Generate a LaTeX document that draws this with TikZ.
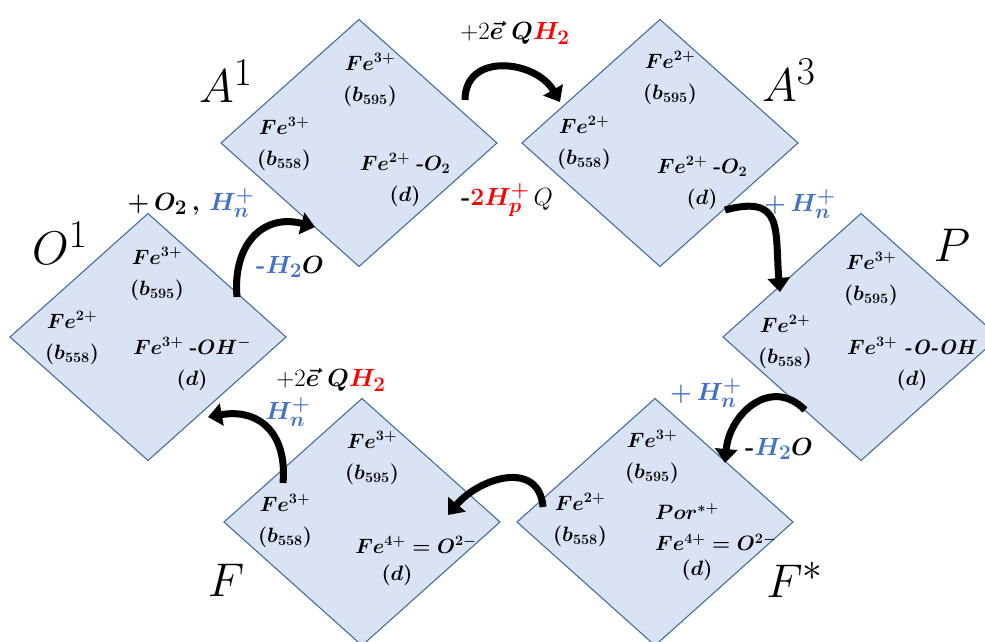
\documentclass[tikz,border=0pt]{standalone}
\usepackage{amsmath,amssymb}
\usepackage{tikz}
\usetikzlibrary{arrows.meta, positioning, calc, shapes.geometric}
\definecolor{cellfill}{RGB}{218,227,243}
\definecolor{celledge}{RGB}{65,113,156}
\definecolor{protblue}{RGB}{68,114,196}
\definecolor{hred}{RGB}{255,0,0}
\newcommand{\bigstate}[1]{\scalebox{1.9}{$#1$}}

\begin{document}
\begin{tikzpicture}[x=1pt, y=1pt,
  cell/.style={diamond, draw=celledge, fill=cellfill, line width=1.1pt, minimum width=276pt, minimum height=247pt, inner sep=0pt, outer sep=0pt},
  heme/.style={align=center, inner sep=0pt, font=\fontsize{20.74}{31}\selectfont\boldmath},
  statelabel/.style={inner sep=0pt, font=\fontsize{24.88}{28}\selectfont},
  chem/.style={inner sep=0pt, font=\fontsize{24.88}{28}\selectfont\boldmath},
  cyclearrow/.style={line width=7pt, -{Triangle[width=22pt,length=14pt]}, looseness=1.3}
]
  \useasboundingbox (0,0) rectangle (985,-642);

  % the six states
  \node[cell] (A1) at (359,-143) {};
  \node[cell] (A3) at (660,-143) {};
  \node[cell] (P) at (861,-337) {};
  \node[cell] (Fs) at (655,-522) {};
  \node[cell] (F) at (362,-522) {};
  \node[cell] (O1) at (148,-337) {};

  % A^1
  \node[heme] (A1top) at ($(A1)+(11,63)$) {$Fe^{3+}$\\$(b_{595})$};
  \node[heme] (A1left) at ($(A1)+(-75,-1)$) {$Fe^{3+}$\\$(b_{558})$};
  \node[heme] (A1right) at ($(A1)+(46,-37)$) {$Fe^{2+}$ \textbf{-}$O_2$\\$(d)$};
  % A^3
  \node[heme] (A3top) at ($(A3)+(10,65)$) {$Fe^{2+}$\\$(b_{595})$};
  \node[heme] (A3left) at ($(A3)+(-76,0)$) {$Fe^{2+}$\\$(b_{558})$};
  \node[heme] (A3right) at ($(A3)+(42,-40)$) {$Fe^{2+}$ \textbf{-}$O_2$\\$(d)$};
  % P
  \node[heme] (Ptop) at ($(P)+(10,58)$) {$Fe^{3+}$\\$(b_{595})$};
  \node[heme] (Pleft) at ($(P)+(-76,-5)$) {$Fe^{2+}$\\$(b_{558})$};
  \node[heme] (Pright) at ($(P)+(51,-27)$) {$Fe^{3+}$ \textbf{\textit{-O-OH}}\\$(d)$};
  % F^*
  \node[heme] (Fstop) at ($(Fs)+(-3,65)$) {$Fe^{3+}$\\$(b_{595})$};
  \node[heme] (Fsleft) at ($(Fs)+(-75,2)$) {$Fe^{2+}$\\$(b_{558})$};
  \node[heme, align=left, anchor=west] (Fsright) at ($(Fs)+(0,-5)$) {$Por^{*+}$\\$Fe^{4+}=O^{2-}$};
  \node[heme] (Fsd) at ($(Fs)+(42,-48)$) {$(d)$};
  % F
  \node[heme] (Ftop) at ($(F)+(10,64)$) {$Fe^{3+}$\\$(b_{595})$};
  \node[heme] (Fleft) at ($(F)+(-77,1)$) {$Fe^{3+}$\\$(b_{558})$};
  \node[heme] (Fright) at ($(F)+(54,-23)$) {$Fe^{4+}=O^{2-}$};
  \node[heme] (Fd) at ($(F)+(35,-53)$) {$(d)$};
  % O^1
  \node[heme] (O1top) at ($(O1)+(9,63)$) {$Fe^{3+}$\\$(b_{595})$};
  \node[heme] (O1left) at ($(O1)+(-76,-1)$) {$Fe^{2+}$\\$(b_{558})$};
  \node[heme] (O1right) at ($(O1)+(44,-27)$) {$Fe^{3+}$ \textbf{-}$OH^-$\\$(d)$};

  % state names
  \node[statelabel] (A1lab) at (226,-81) {\bigstate{A^1}};
  \node[statelabel] (A3lab) at (789,-80) {\bigstate{A^3}};
  \node[statelabel] (O1lab) at (60,-243) {\bigstate{O^1}};
  \node[statelabel] (Plab) at (952,-245) {\bigstate{P}};
  \node[statelabel] (Flab) at (226,-580) {\bigstate{F}};
  \node[statelabel] (Fslab) at (795,-580) {\bigstate{F^*}};

  % what goes in and out at each step
  \node[chem] (in1) at (515,-33) {\mbox{\unboldmath$+2$}$\vec{e}\;Q{\color{hred}H_2}$};
  \node[chem] (out1) at (507,-200) {\textbf{-}${\color{hred}2H_p^+}$\,\mbox{\unboldmath$Q$}};
  \node[chem] (in2) at (800,-204) {\color{protblue}$+\,H_n^+$};
  \node[chem] (in3) at (706,-393) {\color{protblue}$+\,H_n^+$};
  \node[chem] (out3) at (779,-449) {\textbf{-}{\color{protblue}$H_2$}$O$};
  \node[chem] (in4) at (331,-380) {\mbox{\unboldmath$+2$}$\vec{e}\;Q{\color{hred}H_2}$};
  \node[chem] (in5) at (288,-412) {\color{protblue}$H_n^+$};
  \node[chem] (in6) at (191,-203) {$+\,O_2\,,\,{\color{protblue}H_n^+}$};
  \node[chem] (out6) at (290,-267) {{\color{protblue}\textbf{-}$H_2$}$O$};

  % curved arrows between the states
  \coordinate (t1) at (465,-100); \coordinate (h1) at (560,-102);
  \coordinate (t2) at (725,-210); \coordinate (h2) at (780,-292);
  \coordinate (t3) at (805,-410); \coordinate (h3) at (725,-463);
  \coordinate (t4) at (543,-507); \coordinate (h4) at (448,-515);
  \coordinate (t5) at (283,-483); \coordinate (h5) at (208,-417);
  \coordinate (t6) at (237,-297); \coordinate (h6) at (315,-227);
  \draw[cyclearrow] (t1) to[out=90, in=120] (h1);
  \draw[cyclearrow, looseness=1.6] (t2) to[out=15, in=95] (h2);
  \draw[cyclearrow] (t3) to[out=135, in=85] (h3);
  \draw[cyclearrow] (t4) to[out=95, in=50] (h4);
  \draw[cyclearrow] (t5) to[out=85, in=10] (h5);
  \draw[cyclearrow] (t6) to[out=95, in=165] (h6);
\end{tikzpicture}
\end{document}
